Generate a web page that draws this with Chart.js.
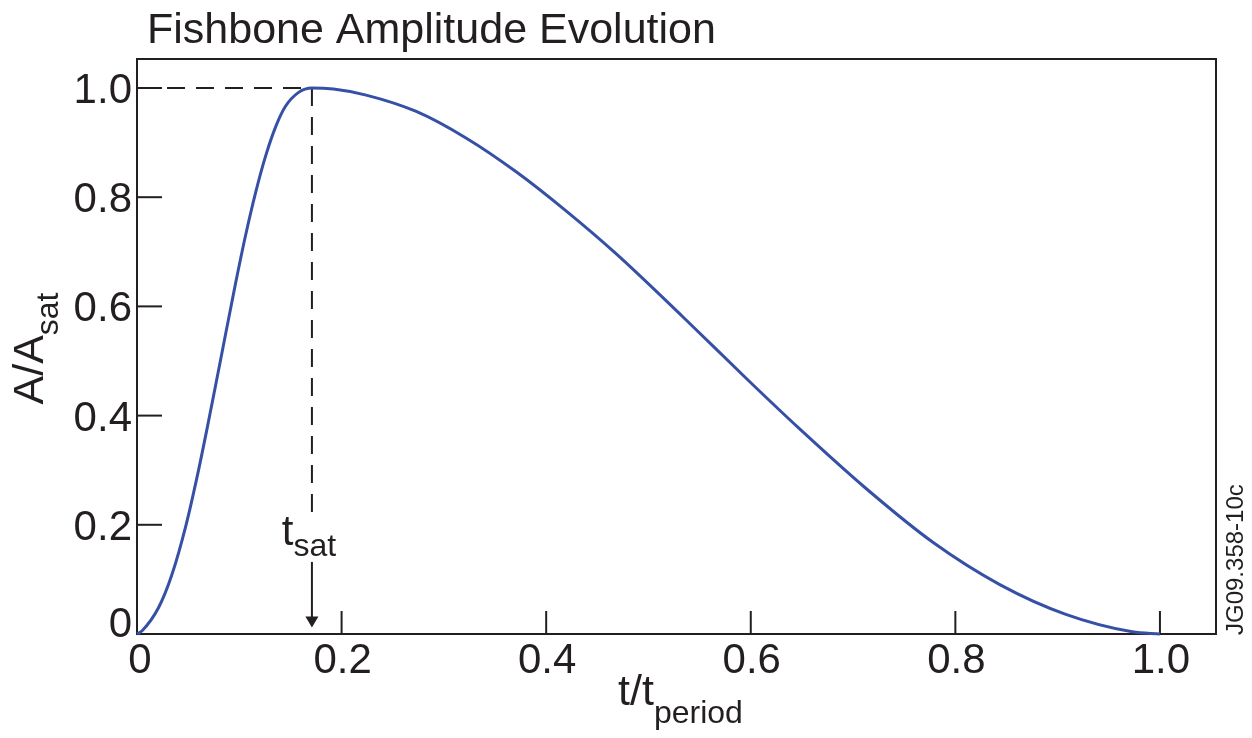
<!DOCTYPE html>
<html>
<head>
<meta charset="utf-8">
<title>Fishbone Amplitude Evolution</title>
<script src="https://cdn.jsdelivr.net/npm/chart.js@4.4.1/dist/chart.umd.min.js"></script>
<style>
  html, body { margin: 0; padding: 0; background: #fff; }
</style>
</head>
<body>
<canvas id="chart" width="1252" height="738"></canvas>
<script>
// curve: t/t_period vs A/A_sat
const tValues = [0, 0.005, 0.021, 0.034, 0.048, 0.059, 0.069, 0.077, 0.087, 0.096, 0.106, 0.116,
  0.126, 0.136, 0.145, 0.158, 0.171, 0.192, 0.224, 0.273, 0.322, 0.371, 0.420, 0.468,
  0.533, 0.599, 0.647, 0.713, 0.778, 0.843, 0.908, 0.973, 1.0];
const ampValues = [0, 0.006, 0.048, 0.108, 0.200, 0.290, 0.381, 0.457, 0.553, 0.639, 0.729, 0.809,
  0.877, 0.931, 0.966, 0.992, 1.0, 0.998, 0.987, 0.957, 0.908, 0.846, 0.774, 0.697,
  0.582, 0.462, 0.377, 0.266, 0.168, 0.091, 0.036, 0.004, 0];

const xTickValues = [0, 0.2, 0.4, 0.6, 0.8, 1.0];
const xTickLabels = ["0", "0.2", "0.4", "0.6", "0.8", "1.0"];
const yTickValues = [0, 0.2, 0.4, 0.6, 0.8, 1.0];
const yTickLabels = ["0", "0.2", "0.4", "0.6", "0.8", "1.0"];

// saturation marker
const tSat = 0.171;
const satAmp = 1.0;
const dashEnd = 0.209;
const arrowFrom = 0.132;
const arrowTo = 0.012;
const satLabelAmp = 0.163;

const titleText = "Fishbone Amplitude Evolution";
const figId = "JG09.358-10c";

const ink = "#231f20";
const blue = "#3650a6";
const font = "'Liberation Sans', Arial, Helvetica, sans-serif";

const curve = tValues.map((t, i) => ({ x: t, y: ampValues[i] }));
const dashLine = [{ x: 0, y: satAmp }, { x: tSat, y: satAmp }, { x: tSat, y: dashEnd }];

// main text with a subscript, centred on x
function subText(ctx, main, sub, x, y, size, subSize, drop) {
  ctx.font = size + "px " + font;
  const w1 = ctx.measureText(main).width;
  ctx.font = subSize + "px " + font;
  const w2 = ctx.measureText(sub).width;
  const start = x - (w1 + w2) / 2;
  ctx.textAlign = "left";
  ctx.textBaseline = "alphabetic";
  ctx.font = size + "px " + font;
  ctx.fillText(main, start, y);
  ctx.font = subSize + "px " + font;
  ctx.fillText(sub, start + w1, y + drop);
}

const framePlugin = {
  id: "frame",
  beforeDatasetsDraw(chart) {
    const { ctx, chartArea: a, scales } = chart;
    ctx.save();
    ctx.strokeStyle = ink;
    ctx.lineWidth = 2;
    ctx.strokeRect(a.left, a.top, a.right - a.left, a.bottom - a.top);
    // inner ticks
    xTickValues.forEach((v) => {
      if (v === 0) return;
      const px = scales.x.getPixelForValue(v);
      ctx.beginPath();
      ctx.moveTo(px, a.bottom);
      ctx.lineTo(px, a.bottom - 23);
      ctx.stroke();
    });
    yTickValues.forEach((v) => {
      if (v === 0) return;
      const py = scales.y.getPixelForValue(v);
      ctx.beginPath();
      ctx.moveTo(a.left, py);
      ctx.lineTo(a.left + 25, py);
      ctx.stroke();
    });
    ctx.restore();
  },
  afterDraw(chart) {
    const { ctx, chartArea: a, scales } = chart;
    ctx.save();
    ctx.fillStyle = ink;
    ctx.strokeStyle = ink;

    // tick labels
    ctx.font = "42px " + font;
    ctx.textAlign = "center";
    ctx.textBaseline = "alphabetic";
    xTickValues.forEach((v, i) => {
      const px = scales.x.getPixelForValue(v);
      ctx.fillText(xTickLabels[i], px + (v === 0 ? 3 : 1), a.bottom + 39);
    });
    ctx.textAlign = "right";
    yTickValues.forEach((v, i) => {
      const py = scales.y.getPixelForValue(v);
      ctx.fillText(yTickLabels[i], a.left - 5, py + (v === 0 ? 3 : 15));
    });

    // title
    ctx.font = "43px " + font;
    ctx.textAlign = "left";
    ctx.fillText(titleText, 147, 43);

    // axis titles
    const cx = (a.left + a.right) / 2;
    subText(ctx, "t/t", "period", cx + 4, 705, 43, 32, 18);
    ctx.save();
    ctx.translate(43, (a.top + a.bottom) / 2 + 2);
    ctx.rotate(-Math.PI / 2);
    subText(ctx, "A/A", "sat", 0, 0, 43, 32, 15);
    ctx.restore();

    // t_sat marker
    const sx = scales.x.getPixelForValue(tSat);
    subText(ctx, "t", "sat", sx - 3, scales.y.getPixelForValue(satLabelAmp), 42, 32, 11);
    const y1 = scales.y.getPixelForValue(arrowFrom);
    const y2 = scales.y.getPixelForValue(arrowTo);
    ctx.lineWidth = 2;
    ctx.beginPath();
    ctx.moveTo(sx, y1);
    ctx.lineTo(sx, y2 - 8);
    ctx.stroke();
    ctx.beginPath();
    ctx.moveTo(sx - 6.5, y2 - 11);
    ctx.lineTo(sx + 6.5, y2 - 11);
    ctx.lineTo(sx, y2);
    ctx.closePath();
    ctx.fill();

    // figure id on the right
    ctx.save();
    ctx.translate(1243, a.bottom + 1);
    ctx.rotate(-Math.PI / 2);
    ctx.font = "24px " + font;
    ctx.textAlign = "left";
    ctx.fillText(figId, 0, 0);
    ctx.restore();

    ctx.restore();
  }
};

const ctx = document.getElementById("chart").getContext("2d");
const chart = new Chart(ctx, {
  type: "scatter",
  data: {
    datasets: [
      {
        label: "A/Asat",
        data: curve,
        showLine: true,
        borderColor: blue,
        borderWidth: 3,
        pointRadius: 0,
        cubicInterpolationMode: "monotone",
        clip: 6
      },
      {
        label: "saturation",
        data: dashLine,
        showLine: true,
        borderColor: ink,
        borderWidth: 2,
        borderDash: [18, 11],
        borderDashOffset: -1,
        pointRadius: 0,
        tension: 0,
        clip: 6
      }
    ]
  },
  options: {
    responsive: false,
    devicePixelRatio: 1,
    animation: false,
    layout: { padding: { left: 137, top: 59, right: 36, bottom: 104 } },
    plugins: {
      legend: { display: false },
      tooltip: { enabled: false },
      title: { display: false }
    },
    scales: {
      x: { type: "linear", display: false, min: 0, max: 1.0548 },
      y: { type: "linear", display: false, min: 0, max: 1.0531 }
    }
  },
  plugins: [framePlugin]
});
</script>
</body>
</html>
